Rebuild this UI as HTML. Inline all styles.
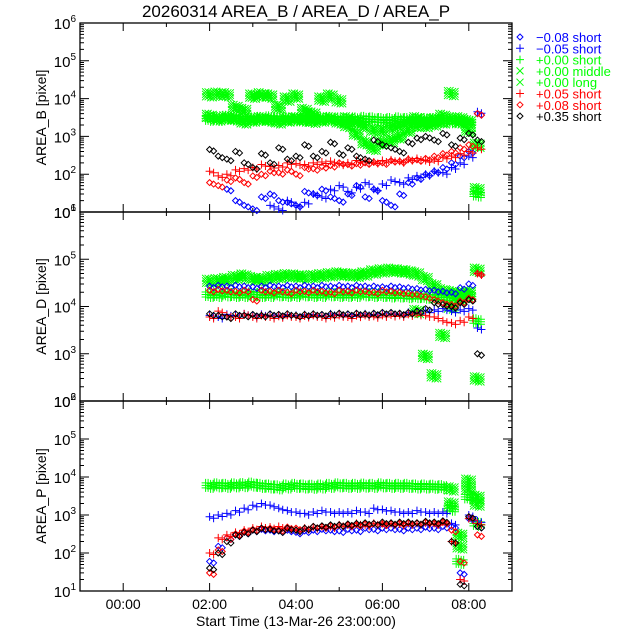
<!DOCTYPE html>
<html><head><meta charset="utf-8"><style>
body{margin:0;background:#fff}
svg{display:block;font-family:"Liberation Sans",sans-serif}
</style></head><body>
<svg id="chart" width="640" height="640" viewBox="0 0 640 640">
<rect width="640" height="640" fill="#fff"/>
<text x="296" y="17" font-size="17" text-anchor="middle">20260314 AREA_B / AREA_D / AREA_P</text>
<g id="axes"></g><g id="marks"></g><g id="legend"></g>
</svg>
<script>
// ---- data ----
const times = [2.0,2.2,2.4,2.6,2.8,3.0,3.2,3.4,3.6,3.8,4.0,4.2,4.4,4.6,4.8,5.0,5.2,5.4,5.6,5.8,6.0,6.2,6.4,6.6,6.8,7.0,7.2,7.4,7.6,7.8,8.0,8.2];
const xTickLabels = ["00:00","02:00","04:00","06:00","08:00"];
const xTickHours = [0,2,4,6,8];
const panelNames = ["AREA_B","AREA_D","AREA_P"];
const panelLogMin = [1,2,1];
const panelLogMax = [6,6,6];
const legendLabels = ["\u22120.08 short","\u22120.05 short","+0.00 short","+0.00 middle","+0.00 long","+0.05 short","+0.08 short","+0.35 short"];
const N = null;
// panel 1 AREA_B
const b_blueD  = [N,N,40,20,15,12,25,30,20,18,15,35,30,40,25,20,30,50,25,40,20,15,30,60,80,100,120,150,200,300,400,4000];
const b_blueP  = [N,N,N,N,N,N,N,15,12,20,15,18,30,25,40,50,35,45,60,40,55,70,60,80,90,100,120,110,150,200,300,4500];
const b_greenP = [3000,3000,3200,3100,3000,2900,3000,3100,3000,3000,2900,3000,3100,3000,3000,2900,2800,2900,3000,2900,2800,2800,2900,2800,2700,2800,2800,2700,2600,2500,2500,30];
const b_greenM = [13000,13500,13000,6000,5000,12000,13000,12000,6000,10000,12000,5000,4000,10000,12000,9000,3000,2500,2000,1500,1500,1800,2000,2500,3000,2500,2800,3500,14000,3000,2500,600];
const b_greenL = [3500,3000,3200,3000,2500,2800,3000,2800,2500,2800,3000,2800,2600,2800,3000,2500,2000,1200,700,500,700,800,1000,1500,2000,2000,2200,2500,3000,2500,1500,40];
const b_redP   = [120,90,100,130,140,150,180,160,170,200,190,180,200,210,220,190,200,230,220,210,230,240,220,250,260,230,240,280,300,350,400,500];
const b_redD   = [60,50,70,80,60,90,100,120,110,130,100,150,140,160,170,200,180,190,200,210,200,230,220,250,240,260,300,350,400,500,600,4000];
const b_blackD = [450,300,250,400,200,150,350,200,500,250,300,600,300,400,700,350,500,300,250,800,600,500,400,700,900,1000,800,1200,600,900,1200,800];
// panel 2 AREA_D
const d_blueD  = [27000,28000,27000,28000,27000,26000,27000,28000,27000,28000,27000,28000,27000,28000,27000,28000,27000,28000,27000,27000,26000,27000,26000,25000,24000,23000,22000,21000,20000,25000,30000,50000];
const d_blueP  = [6500,6000,6800,6500,7000,6500,6800,6500,6600,6800,6500,6700,6800,6500,7000,6800,6600,6800,7000,6800,7000,7200,7000,7500,7500,8000,8500,9000,8000,8500,9000,3500];
const d_greenP = [18000,18000,18500,18000,18000,18500,18000,18000,18500,18000,18000,18500,18000,18000,18500,18000,18000,18000,18500,18000,18000,17500,17500,17000,17000,16500,16000,16000,15500,16000,17000,5000];
const d_greenM = [35000,36000,38000,42000,45000,40000,38000,42000,44000,46000,45000,43000,44000,46000,48000,50000,48000,47000,50000,55000,58000,60000,58000,55000,50000,40000,28000,22000,20000,19000,20000,60000];
const d_greenL = [N,N,N,N,N,N,N,N,N,N,N,N,N,N,N,N,N,N,N,N,N,N,N,N,8000,900,350,2500,10000,15000,20000,300];
const d_redP   = [6000,8000,6500,6000,7000,6000,6500,6000,6200,6500,6000,6300,6500,6000,6200,6500,6000,6400,6500,6200,6500,6600,6500,6800,7000,6500,6000,5000,4500,5000,6000,50000];
const d_redD   = [22000,23000,22000,21000,22000,14000,22000,21000,22000,20000,22000,21000,22000,21000,20000,22000,21000,22000,21000,20000,22000,21000,20000,19000,18000,16000,14000,12000,11000,13000,15000,50000];
const d_blackD = [7000,6500,6000,7000,6500,6800,6500,7000,6800,7000,6500,6800,7000,6800,7000,7200,7000,7200,7000,7200,7500,7500,7200,7500,8000,9000,12000,11000,10000,12000,14000,1000];
// panel 3 AREA_P
const p_blueD  = [60,150,250,300,350,400,420,400,380,400,350,380,400,420,400,380,420,400,450,420,450,450,420,450,450,480,450,500,500,30,800,500];
const p_blueP  = [900,1000,1100,1300,1500,1800,2000,1800,1500,1300,1200,1100,1200,1300,1200,1200,1200,1300,1200,1500,1400,1300,1200,1200,1300,1200,1200,1200,600,20,1000,700];
const p_greenP = [6000,6200,6000,6200,6300,6500,6000,5800,5500,5800,6000,5800,5700,5800,6000,6200,6000,6000,6100,6000,6200,6000,6000,6000,5800,5800,5700,5600,1500,60,3000,600];
const p_greenM = [N,N,N,N,N,N,N,N,N,N,N,N,N,N,N,N,N,N,N,N,N,N,N,N,N,N,N,N,5000,300,8000,3000];
const p_greenL = [N,N,N,N,N,N,N,N,N,N,N,N,N,N,N,N,N,N,N,N,N,N,N,N,N,N,N,N,2000,150,5000,2000];
const p_redP   = [100,250,300,350,400,450,500,480,500,450,400,450,480,500,500,550,550,600,550,600,600,600,580,600,600,620,600,650,200,20,800,600];
const p_redD   = [30,120,250,320,380,420,450,450,420,480,450,450,500,500,520,550,550,560,580,600,580,600,600,620,620,650,600,650,400,60,900,300];
const p_blackD = [40,100,200,300,350,400,450,420,380,450,400,450,500,520,550,550,580,600,620,600,650,620,650,650,620,680,650,700,200,15,900,500];

// ---- layout ----
const X0=80, X1=512, HMIN=-1, HMAX=9;
const panelTop=[23,212,401], panelBot=[212,401,591];
const xs = h => X0 + (h-HMIN)/(HMAX-HMIN)*(X1-X0);
const ys = (p,v) => panelBot[p] - (Math.log10(v)-panelLogMin[p])/(panelLogMax[p]-panelLogMin[p])*(panelBot[p]-panelTop[p]);
const NS="http://www.w3.org/2000/svg";
const axes=document.getElementById('axes'), marks=document.getElementById('marks'), legend=document.getElementById('legend');
function mk(tag,attrs,parent){const e=document.createElementNS(NS,tag);for(const k in attrs)e.setAttribute(k,attrs[k]);parent.appendChild(e);return e;}

// axes
for(let p=0;p<3;p++){
  const fr=mk('rect',{x:X0,y:panelTop[p],width:X1-X0,height:panelBot[p]-panelTop[p],fill:'none',stroke:'#000','stroke-width':1.3},axes);
  
  
  let d='';
  for(let h=HMIN;h<=HMAX;h++){const x=xs(h);const L=(h%2===0)?8:4;d+=`M${x},${panelBot[p]}v${-L}M${x},${panelTop[p]}v${L}`;}
  for(let e=panelLogMin[p];e<=panelLogMax[p];e++){
    const y=ys(p,Math.pow(10,e));d+=`M${X0},${y}h9M${X1},${y}h-9`;
    if(e<panelLogMax[p]) for(let m=2;m<10;m++){const yy=ys(p,m*Math.pow(10,e));d+=`M${X0},${yy}h4M${X1},${yy}h-4`;}
    const t=mk('text',{x:X0-4,y:y+6,'font-size':15,'text-anchor':'end'},axes);
    t.innerHTML='10<tspan font-size="10" dy="-7">'+e+'</tspan>';
    
    
  }
  const tk=mk('path',{d:d,stroke:'#000','stroke-width':1,fill:'none'},axes);
  
  
  const cy=(panelTop[p]+panelBot[p])/2;
  const yl=mk('text',{x:46,y:cy,'font-size':14,'text-anchor':'middle',transform:`rotate(-90 46 ${cy})`},axes);
  yl.textContent=panelNames[p]+' [pixel]';
  
  
}
xTickHours.forEach((h,i)=>{
  const t=mk('text',{x:xs(h),y:609,'font-size':14,'text-anchor':'middle'},axes);
  t.textContent=xTickLabels[i];
  
  
});
const xl=mk('text',{x:296,y:626,'font-size':14,'text-anchor':'middle'},axes);
xl.textContent='Start Time (13-Mar-26 23:00:00)';



// markers
function markerPath(kind,x,y){
  if(kind==='D')return `M${x-3},${y}L${x},${y-3}L${x+3},${y}L${x},${y+3}Z`;
  if(kind==='P')return `M${x-4},${y}h8M${x},${y-4}v8`;
  return `M${x-3.5},${y-3.5}l7,7M${x-3.5},${y+3.5}l7,-7`;
}
const colors={blue:'#0000ff',green:'#00ff00',red:'#ff0000',black:'#000000'};
function series(p,vals,kind,color,name,spread){
  let d='';
  vals.forEach((v,i)=>{
    if(v==null||v<=0)return;
    const x=xs(times[i]),y=ys(p,v);
    if(spread){for(const dx of [-4,-1.5,1,3.5])for(const dy of [-2.5,0,2.5])d+=markerPath(kind,x+dx,y+dy+(dx>0?1:0));}
    else{d+=markerPath(kind,x,y);d+=markerPath(kind,x+4,y+1.5);}
  });
  const e=mk('path',{d:d,stroke:colors[color],'stroke-width':1,fill:'none'},marks);
  
  
}
for(let p=0;p<3;p++){
  const pre=['b','d','p'][p];
  const list=[
    [pre==='b'?b_greenL:pre==='d'?d_greenL:p_greenL,'X','green','series-plus000-long',true],
    [pre==='b'?b_greenM:pre==='d'?d_greenM:p_greenM,'X','green','series-plus000-middle',true],
    [pre==='b'?b_greenP:pre==='d'?d_greenP:p_greenP,'P','green','series-plus000-short',true],
    [pre==='b'?b_blueD:pre==='d'?d_blueD:p_blueD,'D','blue','series-minus008-short',false],
    [pre==='b'?b_blueP:pre==='d'?d_blueP:p_blueP,'P','blue','series-minus005-short',false],
    [pre==='b'?b_redD:pre==='d'?d_redD:p_redD,'D','red','series-plus008-short',false],
    [pre==='b'?b_redP:pre==='d'?d_redP:p_redP,'P','red','series-plus005-short',false],
    [pre==='b'?b_blackD:pre==='d'?d_blackD:p_blackD,'D','black','series-plus035-short',false]];
  list.forEach(s=>series(p,s[0],s[1],s[2],s[3]+'-'+panelNames[p].toLowerCase().replace('_','-'),s[4]));
}

// legend
const legKinds=['D','P','P','X','X','P','D','D'];
const legColors=['blue','blue','green','green','green','red','red','black'];
legendLabels.forEach((lab,i)=>{
  const y=37+i*11.3;
  const g=mk('g',{},legend);
  
  
  mk('path',{d:markerPath(legKinds[i],520,y),stroke:colors[legColors[i]],fill:'none','stroke-width':1},g);
  const t=mk('text',{x:536,y:y+5,'font-size':13,fill:colors[legColors[i]]},g);
  t.textContent=lab;
});
</script>
</body></html>
